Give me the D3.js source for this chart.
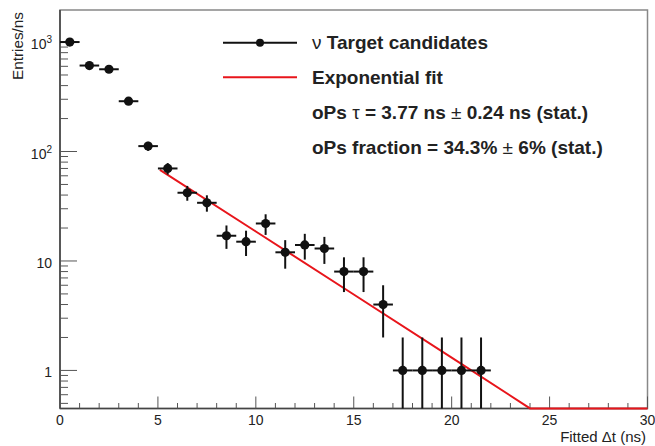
<!DOCTYPE html>
<html><head><meta charset="utf-8">
<script src="https://cdn.jsdelivr.net/npm/d3@7"></script>
<style>body{margin:0;background:#fff}svg{display:block;font-family:"Liberation Sans",Arial,Helvetica,sans-serif}</style>
</head><body><svg id="c" width="655" height="446"></svg>
<script>
// ---- data ----
const binCenters = [0.5,1.5,2.5,3.5,4.5,5.5,6.5,7.5,8.5,9.5,10.5,11.5,12.5,13.5,14.5,15.5,16.5,17.5,18.5,19.5,20.5,21.5];
const counts     = [1000,610,564,288,112,70,42,34,17,15,22,12,14,13,8,8,4,1,1,1,1,1];
const errors     = [31.6,24.7,23.7,17,10.6,8.4,6.5,5.8,4.1,3.9,4.7,3.5,3.7,3.6,2.8,2.8,2,1,1,1,1,1];
const binHalfWidth = 0.5;
const fitX = [5.1,10,15,20,24,30];
const fitY = [68,18.6,4.94,1.31,0.45,0.092];
const xTickLabels = ["0","5","10","15","20","25","30"];
const xTickValues = [0,5,10,15,20,25,30];
const yTickValues = [1,10,100,1000];
const legendRows = ["ν Target candidates","Exponential fit","oPs τ = 3.77 ns ± 0.24 ns (stat.)","oPs fraction = 34.3% ± 6% (stat.)"];

const svg = d3.select("#c");
const L=60, R=647.5, T=10, B=408.5;
const x = d3.scaleLinear().domain([0,30]).range([L,R]);
const y = d3.scaleLog().domain([0.449,1962]).range([B,T]).clamp(true);

// frame
svg.append("rect").attr("x",L).attr("y",T).attr("width",R-L).attr("height",B-T)
  .attr("fill","none").attr("stroke","#888").attr("stroke-width",1.5);

// axes lines
svg.append("line").attr("x1",L).attr("x2",L).attr("y1",T).attr("y2",B).attr("stroke","#444").attr("stroke-width",1.6);
svg.append("line").attr("x1",L).attr("x2",R).attr("y1",B).attr("y2",B).attr("stroke","#444").attr("stroke-width",1.6);

// x ticks
const xMinor = d3.range(0,31,1);
svg.append("g").selectAll("line").data(xMinor).join("line")
  .attr("x1",d=>x(d)).attr("x2",d=>x(d)).attr("y1",B).attr("y2",d=>B-(d%5===0?12:5.5))
  .attr("stroke","#555").attr("stroke-width",1);
svg.append("g").selectAll("text").data(xTickValues).join("text")
  .attr("x",d=>x(d)).attr("y",B+16.5).attr("text-anchor","middle")
  .attr("font-size",14).attr("fill","#222").text((d,i)=>xTickLabels[i]);

// y ticks
const yMinor = [];
[0.1,1,10,100,1000].forEach(dec=>{for(let k=1;k<10;k++){const v=dec*k; if(v>=0.449&&v<=1962) yMinor.push(v);}});
svg.append("g").selectAll("line").data(yMinor).join("line")
  .attr("x1",L).attr("x2",d=>L+(yTickValues.includes(d)?17:8)).attr("y1",d=>y(d)).attr("y2",d=>y(d))
  .attr("stroke","#555").attr("stroke-width",1);
const yl = svg.append("g").selectAll("text").data(yTickValues).join("text")
  .attr("x",52).attr("y",d=>y(d)+7).attr("text-anchor","end")
  .attr("font-size",14).attr("fill","#222");
yl.each(function(d){
  const t=d3.select(this);
  if(d>=100){ t.append("tspan").text("10"); t.append("tspan").attr("font-size",10).attr("dy",-6).text(String(Math.round(Math.log10(d)))); }
  else t.text(String(d));
});

// fit line (drawn over the axis so its clipped tail shows along the bottom)
svg.append("path").datum(fitX.map((v,i)=>[v,fitY[i]]))
  .attr("d",d3.line().x(d=>x(d[0])).y(d=>y(d[1])))
  .attr("fill","none").attr("stroke","#e8151b").attr("stroke-width",2);

// axis titles
svg.append("text").attr("transform","translate(23,12) rotate(-90)").attr("text-anchor","end")
  .attr("font-size",15.3).attr("fill","#222").text("Entries/ns");
svg.append("text").attr("x",646).attr("y",442).attr("text-anchor","end")
  .attr("font-size",15).attr("fill","#222").text("Fitted Δt (ns)");

// data points
const g = svg.append("g");
binCenters.forEach((c,i)=>{
  const v=counts[i], e=errors[i];
  g.append("line").attr("x1",x(c-binHalfWidth)).attr("x2",x(c+binHalfWidth)).attr("y1",y(v)).attr("y2",y(v))
    .attr("stroke","#111").attr("stroke-width",2);
  g.append("line").attr("x1",x(c)).attr("x2",x(c)).attr("y1",y(Math.max(v-e,1e-6))).attr("y2",y(v+e))
    .attr("stroke","#111").attr("stroke-width",2);
  g.append("circle").attr("cx",x(c)).attr("cy",y(v)).attr("r",4.6).attr("fill","#111");
});

// legend
const lx1=223, lx2=297, tx=312, rowY=[42.7,77.3,112,147];
svg.append("line").attr("x1",lx1).attr("x2",lx2).attr("y1",rowY[0]).attr("y2",rowY[0]).attr("stroke","#111").attr("stroke-width",2);
svg.append("circle").attr("cx",(lx1+lx2)/2).attr("cy",rowY[0]).attr("r",4).attr("fill","#111");
svg.append("line").attr("x1",lx1).attr("x2",lx2).attr("y1",rowY[1]).attr("y2",rowY[1]).attr("stroke","#e8151b").attr("stroke-width",2);
legendRows.forEach((s,i)=>{
  const t = svg.append("text").attr("x",tx).attr("y",rowY[i]+6.5).attr("font-size",19).attr("font-weight","bold").attr("fill","#222");
  // Greek letters and ± drawn in regular weight like the symbol font
  s.split(/([ντ±])/).forEach(part=>{
    if(!part) return;
    const sp=t.append("tspan").text(part);
    if(/[ντ±]/.test(part)) sp.attr("font-weight","normal");
  });
});
</script></body></html>
